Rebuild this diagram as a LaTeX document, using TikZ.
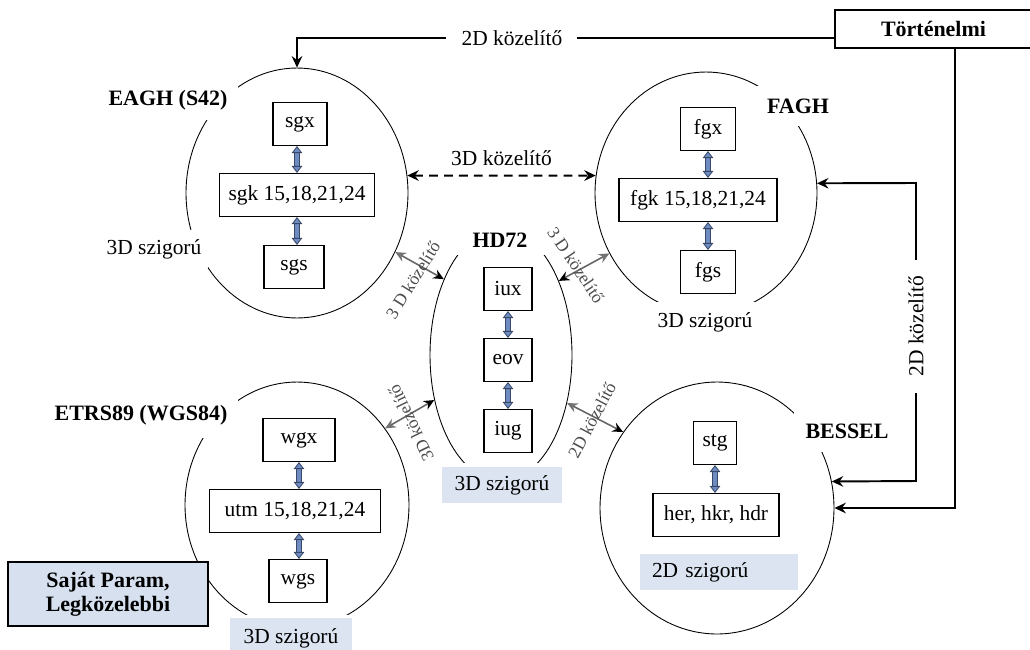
\documentclass[tikz,border=0pt]{standalone}
\usepackage{fontspec}
\setmainfont{Liberation Serif}
\usetikzlibrary{shapes.geometric,arrows.meta}
\definecolor{paleblue}{HTML}{DCE4F1}
\definecolor{boxblue}{HTML}{D6E0EF}
\definecolor{arrfill}{HTML}{6E8CC2}
\definecolor{arrline}{HTML}{3A4868}
\begin{document}
\begin{tikzpicture}[>={Stealth[length=6.5pt,width=6pt,inset=2.2pt]}, x=0.02cm, y=-0.02cm,
	every node/.style={font=\fontsize{12.2}{14}\selectfont},
	sys/.style={draw, ellipse, inner sep=0pt, line width=0.5pt},
	crd/.style={draw, line width=0.6pt, minimum height=0.86cm, inner sep=2pt},
	sysname/.style={fill=white, inner sep=0pt, font=\fontsize{12.5}{13}\selectfont\bfseries},
	rig/.style={fill=white, inner sep=0pt},
	blueback/.style={fill=paleblue, inner sep=0pt, preaction={draw=white, line width=4pt}},
	updn/.style={draw=arrline, double=arrfill, double distance=2.4pt, line width=0.5pt, {Triangle[width=6pt,length=4pt,fill=arrfill]}-{Triangle[width=6pt,length=4pt,fill=arrfill]}},
	conn/.style={line width=1.1pt},
	apx/.style={line width=0.9pt, draw=black!60, {Stealth[length=6pt,width=5.5pt,inset=2pt,black!55]}-{Stealth[length=6pt,width=5.5pt,inset=2pt,black]}},
	apxtext/.style={font=\fontsize{10}{12}\selectfont, text=black!70, inner sep=0pt}]
				\useasboundingbox (0,0) rectangle (1030,649);
				\node[sys, minimum width=4.44cm, minimum height=5cm] (eagh) at (297,193) {};
				\node[sys, minimum width=4.44cm, minimum height=4.84cm] (fagh) at (706,193) {};
				\node[sys, minimum width=2.84cm, minimum height=5.04cm] (hd) at (501,355) {};
				\node[sys, minimum width=4.48cm, minimum height=4.92cm] (etrs) at (297,505) {};
				\node[sys, minimum width=4.68cm, minimum height=5.04cm] (bessel) at (717,508) {};
				\node[sysname, minimum width=2.8cm, minimum height=0.8cm] (eaghlab) at (168,100) {EAGH (S42)};
				\node[rig, minimum width=2.16cm, minimum height=0.76cm] (eaghrig) at (154,249) {3D szigorú};
				\node[sysname, minimum width=1.8cm, minimum height=0.8cm] (faghlab) at (798,106) {FAGH};
				\node[rig, minimum width=2.7cm, minimum height=0.8cm] (faghrig) at (705,322) {3D szigorú};
				\node[sysname, minimum width=1.8cm, minimum height=0.6cm] (hdlab) at (500,240) {HD72};
				\node[blueback, minimum width=2.42cm, minimum height=0.72cm] (hdrig) at (502,485) {3D szigorú};
				\node[sysname, minimum width=3.9cm, minimum height=0.92cm] (etrslab) at (141,415) {ETRS89 (WGS84)};
				\node[blueback, minimum width=2.46cm, minimum height=0.8cm] (etrsrig) at (291,638) {3D szigorú};
				\node[sysname, minimum width=2.12cm, minimum height=0.84cm] (bessellab) at (847,431) {BESSEL};
				\node[fill=paleblue, inner xsep=0.24cm, inner ysep=0pt, text width=2.68cm, minimum height=0.72cm, align=left] (besselrig) at (719,572) {2D szigorú};
				\node[draw, fill=boxblue, line width=0.8pt, minimum width=4cm, minimum height=1.28cm, align=center, font=\fontsize{12.5}{13.5}\selectfont\bfseries] (sajat) at (108,594) {Saját Param,\\Legközelebbi};
				\node[draw, line width=0.8pt, minimum width=3.94cm, minimum height=0.76cm, font=\fontsize{12.5}{13}\selectfont\bfseries] (torten) at (933.5,29) {Történelmi};
				\node[crd, minimum width=1.08cm] (sgx) at (300,124) {sgx};
				\node[crd, minimum width=3.1cm] (sgk) at (297,195) {sgk 15,18,21,24};
				\node[crd, minimum width=1.2cm] (sgs) at (294,267) {sgs};
				\node[crd, minimum width=1.1cm] (fgx) at (708,129) {fgx};
				\node[crd, minimum width=3.16cm] (fgk) at (698,200) {fgk 15,18,21,24};
				\node[crd, minimum width=1.1cm] (fgs) at (708,272) {fgs};
				\node[crd, minimum width=0.96cm] (iux) at (508,289) {iux};
				\node[crd, minimum width=0.96cm] (eov) at (508,360) {eov};
				\node[crd, minimum width=0.96cm] (iug) at (508,431) {iug};
				\node[crd, minimum width=1.44cm] (wgx) at (299,440) {wgx};
				\node[crd, minimum width=3.42cm] (utm) at (295,511) {utm 15,18,21,24};
				\node[crd, minimum width=1.16cm] (wgs) at (298,581) {wgs};
				\node[crd, minimum width=0.86cm] (stg) at (715,443) {stg};
				\node[crd, minimum width=2.52cm] (her) at (716,515) {her, hkr, hdr};
				\draw[updn] (sgk.north |- sgx.south) -- (sgk.north);
				\draw[updn] (sgk.south) -- (sgk.south |- sgs.north);
				\draw[updn] (fgx.south) -- (fgx.south |- fgk.north);
				\draw[updn] (fgs.north |- fgk.south) -- (fgs.north);
				\draw[updn] (iux.south) -- (eov.north);
				\draw[updn] (eov.south) -- (iug.north);
				\draw[updn] (wgx.south) -- (wgx.south |- utm.north);
				\draw[updn] (wgx.south |- utm.south) -- (wgx.south |- wgs.north);
				\draw[updn] (stg.south) -- (stg.south |- her.north);
				\draw[conn, ->] (torten.185) -| node[rig, pos=0.3, minimum width=2.62cm] (toplab) {2D közelítő} (eagh.north);
				\draw[conn, <->, dash pattern=on 5pt off 3.5pt] (eagh.9) -- node[inner sep=0pt, above=5pt] (dashlab) {3D közelítő} (fagh.171);
				\coordinate (fbtop) at (916,183);
				\coordinate (fbbot) at (916,481);
				\draw[conn, <->] (fagh.5) -- (fbtop) -- node[rig, pos=0.48, rotate=90, minimum width=2.66cm] (sidelab) {2D közelítő} (fbbot) -- (bessel.13);
				\coordinate (tbbot) at (955,508);
				\draw[conn, ->] (torten.south -| tbbot) -- (tbbot) -- (bessel.east);
				\draw[apx] (eagh.-31) -- (hd.127);
				\draw[apx] (fagh.-148) -- (hd.52);
				\draw[apx] (etrs.41) -- (hd.-146);
				\draw[apx] (hd.-36) -- (bessel.141);
				\node[apxtext, rotate=58] (apx1) at (413,280) {3 D közelítő};
				\node[apxtext, rotate=-56] (apx2) at (576,265) {3 D közelítő};
				\node[apxtext, rotate=116] (apx3) at (411,423) {3D közelítő};
				\node[apxtext, rotate=62] (apx4) at (592,420) {2D közelítő};
			\end{tikzpicture}
\end{document}
